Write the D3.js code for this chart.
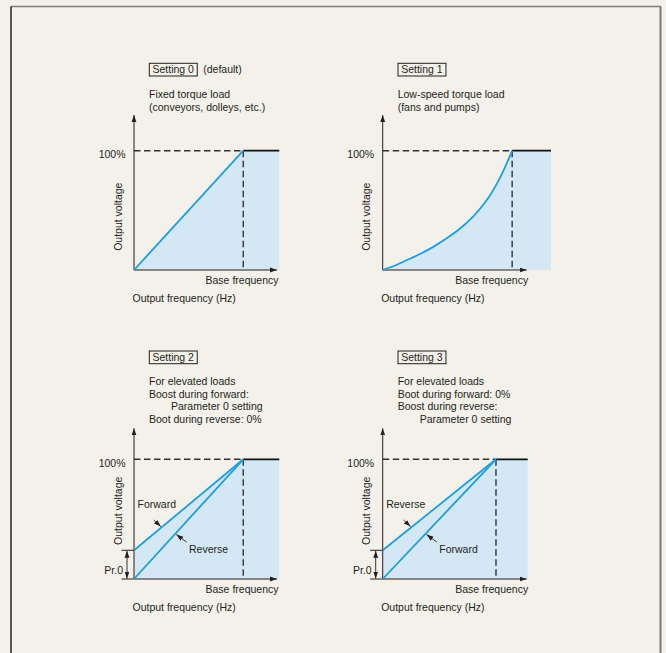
<!DOCTYPE html>
<html>
<head>
<meta charset="utf-8">
<script src="https://cdn.jsdelivr.net/npm/d3@7"></script>
<style>
  html, body { margin: 0; padding: 0; background: #f4f1ea; }
  svg { display: block; }
  text { font-family: "Liberation Sans", Arial, sans-serif; font-size: 10.5px; fill: #231f20; }
</style>
</head>
<body>
<div id="chart"></div>
<script>
// --- data ---
const settingNames = ["Setting 0", "Setting 1", "Setting 2", "Setting 3"];
const settingTags = ["(default)", "", "", ""];
const settingNotes = [
  ["Fixed torque load", "(conveyors, dolleys, etc.)"],
  ["Low-speed torque load", "(fans and pumps)"],
  ["For elevated loads", "Boost during forward:", "  Parameter 0 setting", "Boot during reverse: 0%"],
  ["For elevated loads", "Boot during forward: 0%", "Boost during reverse:", "  Parameter 0 setting"]
];
// frequency as a fraction of base frequency, voltage as fraction of 100%
const linearFreq = [0, 1];
const linearVolt = [0, 1];
const squareFreq = [0, 0.1, 0.2, 0.3, 0.4, 0.5, 0.6, 0.7, 0.8, 0.9, 1];
const squareVolt = [0, 0.04, 0.09, 0.14, 0.2, 0.27, 0.35, 0.45, 0.58, 0.76, 1];
const boostFreq = [0, 1];
const boostVolt = [0.24, 1];
const maxFreq = [1.33, 1.30, 1.33, 1.28];
// which curves each setting draws; the first one bounds the shaded area
const panelCurves = [
  [["linear"]],
  [["square"]],
  [["boost", "Forward"], ["linear", "Reverse"]],
  [["boost", "Reverse"], ["linear", "Forward"]]
];
const yLabels = ["100%", "Output voltage", "Base frequency", "Output frequency (Hz)", "Pr.0"];

const curves = {
  linear: linearFreq.map((f, i) => [f, linearVolt[i]]),
  square: squareFreq.map((f, i) => [f, squareVolt[i]]),
  boost: boostFreq.map((f, i) => [f, boostVolt[i]])
};

// --- layout ---
const W = 666, H = 653;
const layout = [
  {ax: 134,   w: 145.3, oy: 270, top: 150.7, tip: 115,   xEnd: 277,   box: 63.3, note: 98,  gap: 12.5, vy: 216.7},
  {ax: 382.7, w: 168.3, oy: 270, top: 150.7, tip: 115,   xEnd: 526.7, box: 63.3, note: 98,  gap: 12.5, vy: 216.7},
  {ax: 134,   w: 145.3, oy: 579, top: 459.3, tip: 428.3, xEnd: 277,   box: 351,  note: 385, gap: 12.5, vy: 510.8},
  {ax: 382.7, w: 145,   oy: 579, top: 459.3, tip: 428.3, xEnd: 526.7, box: 351,  note: 385, gap: 12.5, vy: 510.8}
];
const blue = "#1c9fdc", fillBlue = "#d4e7f5", ink = "#231f20";
const curveFor = key => key === "square" ? d3.curveCatmullRom.alpha(0.5) : d3.curveLinear;

const svg = d3.select("#chart").append("svg")
  .attr("width", W).attr("height", H);

// outer frame
svg.append("line").attr("x1", 11).attr("y1", 6.5).attr("x2", 661).attr("y2", 6.5)
  .attr("stroke", "#7f7f7c").attr("stroke-width", 1.5);
svg.append("line").attr("x1", 11).attr("y1", 6.5).attr("x2", 11).attr("y2", H)
  .attr("stroke", "#222").attr("stroke-width", 1.5);
svg.append("line").attr("x1", 660.5).attr("y1", 6.5).attr("x2", 660.5).attr("y2", H)
  .attr("stroke", "#7a7a77").attr("stroke-width", 2);

const defs = svg.append("defs");
defs.append("marker").attr("id", "head")
  .attr("viewBox", "0 0 10 10").attr("refX", 10).attr("refY", 5)
  .attr("markerWidth", 7).attr("markerHeight", 7).attr("markerUnits", "userSpaceOnUse")
  .attr("orient", "auto-start-reverse")
  .append("path").attr("d", "M0,1.5L10,5L0,8.5Z").attr("fill", ink);

settingNames.forEach((name, i) => {
  const L = layout[i];
  const g = svg.append("g");
  const x = d3.scaleLinear().domain([0, maxFreq[i]]).range([L.ax, L.ax + L.w]);
  const y = d3.scaleLinear().domain([0, 1]).range([L.oy, L.top]);
  const boosted = panelCurves[i].length > 1;

  // title box
  const tb = g.append("text").attr("x", L.ax + 18.5).attr("y", L.box + 10).text(name);
  const bw = tb.node().getComputedTextLength();
  g.append("rect").attr("x", L.ax + 15.3).attr("y", L.box)
    .attr("width", bw + 6.5).attr("height", 12.7)
    .attr("fill", "none").attr("stroke", ink).attr("stroke-width", 1);
  if (settingTags[i])
    g.append("text").attr("x", L.ax + 15.3 + bw + 6.5 + 6).attr("y", L.box + 10).text(settingTags[i]);

  settingNotes[i].forEach((t, k) => {
    const ind = t.startsWith("  ") ? 22 : 0;
    g.append("text").attr("x", L.ax + 15 + ind).attr("y", L.note + k * L.gap).text(t.trim());
  });

  // shaded area under the first curve, held at 100% to the right
  const key0 = panelCurves[i][0][0];
  g.append("path")
    .attr("d", d3.area().x(d => x(d[0])).y0(y(0)).y1(d => y(d[1]))
      .curve(curveFor(key0))(curves[key0]))
    .attr("fill", fillBlue);
  g.append("rect").attr("x", x(1)).attr("y", y(1))
    .attr("width", x(maxFreq[i]) - x(1)).attr("height", y(0) - y(1))
    .attr("fill", fillBlue);

  // dashed guides
  g.append("line").attr("x1", x(0)).attr("x2", x(1)).attr("y1", y(1)).attr("y2", y(1))
    .attr("stroke", "#333").attr("stroke-width", 1.4).attr("stroke-dasharray", "6.5,3.5");
  g.append("line").attr("x1", x(1)).attr("x2", x(1)).attr("y1", y(1)).attr("y2", y(0))
    .attr("stroke", "#333").attr("stroke-width", 1.4).attr("stroke-dasharray", "6.5,3.5");
  g.append("line").attr("x1", x(1)).attr("x2", x(maxFreq[i])).attr("y1", y(1)).attr("y2", y(1))
    .attr("stroke", "#111").attr("stroke-width", 1.7);

  // axes
  g.append("line").attr("x1", L.ax).attr("x2", L.ax).attr("y1", L.oy).attr("y2", L.tip)
    .attr("stroke", ink).attr("stroke-width", 1).attr("marker-end", "url(#head)");
  g.append("line").attr("x1", boosted ? L.ax - 12.5 : L.ax).attr("x2", L.xEnd)
    .attr("y1", L.oy).attr("y2", L.oy)
    .attr("stroke", ink).attr("stroke-width", 1).attr("marker-end", "url(#head)");

  // curves
  panelCurves[i].forEach(([key]) => {
    g.append("path")
      .attr("d", d3.line().x(d => x(d[0])).y(d => y(d[1])).curve(curveFor(key))(curves[key]))
      .attr("fill", "none").attr("stroke", blue).attr("stroke-width", 1.8);
  });

  // labels
  g.append("text").attr("x", L.ax - 8.5).attr("y", y(1) + 7.5)
    .attr("text-anchor", "end").text(yLabels[0]);
  g.append("text").attr("transform", `translate(${L.ax - 12.5},${L.vy}) rotate(-90)`)
    .attr("text-anchor", "middle").text(yLabels[1]);
  g.append("text").attr("x", L.xEnd + 1.5).attr("y", L.oy + 14)
    .attr("text-anchor", "end").text(yLabels[2]);
  g.append("text").attr("x", L.ax - 1.5).attr("y", L.oy + 32).text(yLabels[3]);

  if (boosted) {
    const p = boostVolt[0];
    g.append("line").attr("x1", L.ax - 12.5).attr("x2", L.ax).attr("y1", y(p)).attr("y2", y(p))
      .attr("stroke", ink).attr("stroke-width", 1);
    g.append("line").attr("x1", L.ax - 7).attr("x2", L.ax - 7).attr("y1", y(p) + 0.5).attr("y2", y(0) - 0.5)
      .attr("stroke", ink).attr("stroke-width", 0.9)
      .attr("marker-start", "url(#head)").attr("marker-end", "url(#head)");
    g.append("text").attr("x", L.ax - 11).attr("y", L.oy - 5.5)
      .attr("text-anchor", "end").text(yLabels[4]);

    // leader labels: upper line label sits above-left, lower line label below-right
    const [up, low] = panelCurves[i];
    const fu = 0.25, fl = 0.38;
    const pu = [x(fu), y(curves[up[0]][0][1] + (1 - curves[up[0]][0][1]) * fu)];
    const pl = [x(fl), y(fl)];
    g.append("line").attr("x1", pu[0] - 7.5).attr("y1", pu[1] - 7.5).attr("x2", pu[0] - 0.5).attr("y2", pu[1] - 1)
      .attr("stroke", ink).attr("stroke-width", 0.9).attr("marker-end", "url(#head)");
    g.append("line").attr("x1", pl[0] + 11).attr("y1", pl[1] + 8.5).attr("x2", pl[0] + 0.8).attr("y2", pl[1] + 1)
      .attr("stroke", ink).attr("stroke-width", 0.9).attr("marker-end", "url(#head)");
    g.append("text").attr("x", L.ax + 3.5).attr("y", L.oy - 71).text(up[1]);
    g.append("text").attr("x", pl[0] + 13.5).attr("y", L.oy - 26).text(low[1]);
  }
});
</script>
</body>
</html>
